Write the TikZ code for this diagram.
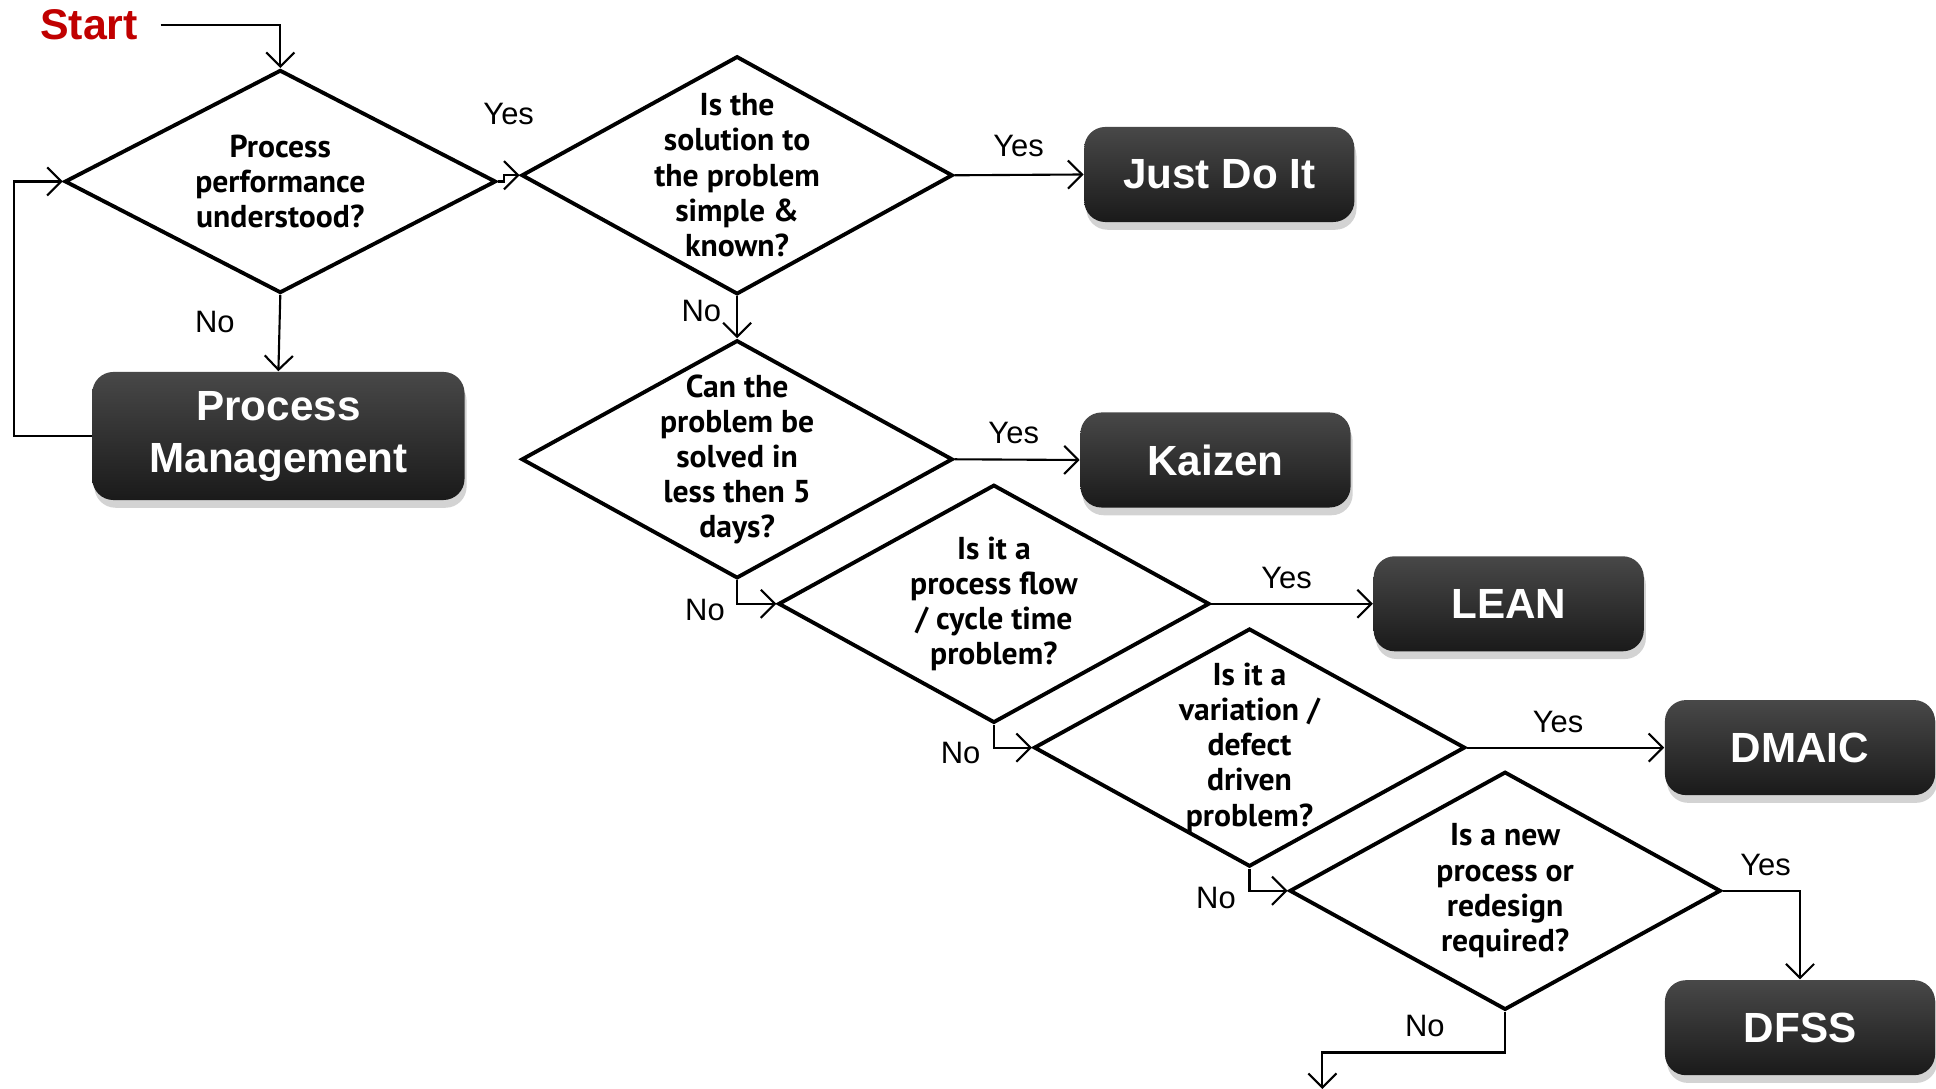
\documentclass[tikz,border=0pt]{standalone}
\usepackage{fontspec}
\setmainfont{Liberation Sans}
\newfontfamily\qfont{PT Sans}
\usetikzlibrary{shapes.geometric,arrows.meta,shadows}

\definecolor{startred}{RGB}{192,0,0}
\definecolor{boxtop}{RGB}{72,72,72}
\definecolor{boxbot}{RGB}{26,26,26}

\tikzset{
  decision/.style={draw, diamond, line width=1.1pt, inner sep=0pt,
    minimum width=4.31cm, minimum height=2.38cm},
  qtext/.style={align=center, inner sep=0pt,
    font=\qfont\bfseries\fontsize{9}{10}\selectfont},
  method/.style={rounded corners=6pt, top color=boxtop, bottom color=boxbot,
    text=white, align=center, minimum width=2.7cm, minimum height=0.95cm,
    font=\bfseries\fontsize{12}{14.8}\selectfont,
    drop shadow={shadow xshift=0.6pt, shadow yshift=-2.2pt, opacity=0.35}},
  lbl/.style={font=\fontsize{8.8}{10}\selectfont},
  flow/.style={->, line width=0.6pt}
}

\begin{document}
\begin{tikzpicture}[x=0.01cm, y=-0.01cm, >={Straight Barb[length=4pt,width=8pt]}]

\useasboundingbox (0,0) rectangle (1936,1089);

% start
\node[text=startred, font=\bfseries\fontsize{12.2}{14}\selectfont, inner xsep=0.22cm] (start) at (89,25) {Start};

% questions
\node[decision, minimum height=2.23cm] (d1) at (280.3,181.5) {};
\node[qtext] (q1) at (d1) {Process\\performance\\understood?};

\node[decision] (d2) at (737.1,175.3) {};
\node[qtext] (q2) at (d2) {Is the\\solution to\\the problem\\simple \&\\known?};

\node[decision] (d3) at (737.1,459.3) {};
\node[qtext] (q3) at (d3) {Can the\\problem be\\solved in\\less then 5\\days?};

\node[decision] (d4) at (993.9,603.8) {};
\node[qtext] (q4) at (d4) {Is it a\\process flow\\/ cycle time\\problem?};

\node[decision] (d5) at (1249.5,747.6) {};
\node[qtext] (q5) at (d5) {Is it a\\variation /\\defect\\driven\\problem?};

\node[decision] (d6) at (1505.1,890.8) {};
\node[qtext] (q6) at (d6) {Is a new\\process or\\redesign\\required?};

% outcomes
\node[method, minimum width=3.72cm, minimum height=1.28cm] (pm) at (278.4,436) {Process\\Management};
\foreach \n/\x/\y/\t in {jdi/1219.3/174.5/Just Do It, kaizen/1215.5/460/Kaizen,
    lean/1508.7/603.8/LEAN, dmaic/1800/747.6/DMAIC, dfss/1800/1027.7/DFSS} {
  \node[method] (\n) at (\x,\y) {\t};
}

\coordinate (exit) at (1322.4,1089);

% connectors
\draw[flow] (start.east) -| (d1.north);
\draw[flow] (d1.south) -- (pm.north);
\draw[flow] (pm.west) -- ++(-77.8,0) |- (d1.west);
\draw[flow] (d1.east) -- ++(6,0) |- (d2.west);
\draw[flow] (d2.east) -- (jdi.west);
\draw[flow] (d2.south) -- (d3.north);
\draw[flow] (d3.east) -- (kaizen.west);
\draw[flow] (d3.south) |- (d4.west);
\draw[flow] (d4.east) -- (lean.west);
\draw[flow] (d4.south) |- (d5.west);
\draw[flow] (d5.east) -- (dmaic.west);
\draw[flow] (d5.south) |- (d6.west);
\draw[flow] (d6.east) -| (dfss.north);
\draw[flow] (d6.south) -- ++(0,40.7) -| (exit);

% yes / no
\node[lbl] (y1) at (508.7,113.6) {Yes};
\node[lbl] (n1) at (214.8,322.3) {No};
\node[lbl] (y2) at (1018.6,145.7) {Yes};
\node[lbl] (n2) at (701.3,311) {No};
\node[lbl] (y3) at (1013.7,433.4) {Yes};
\node[lbl] (n3) at (705,610) {No};
\node[lbl] (y4) at (1286.5,577.8) {Yes};
\node[lbl] (n4) at (960.6,753) {No};
\node[lbl] (y5) at (1558,722.3) {Yes};
\node[lbl] (n5) at (1216,897.6) {No};
\node[lbl] (y6) at (1765.6,865.5) {Yes};
\node[lbl] (n6) at (1424.8,1026) {No};

\end{tikzpicture}
\end{document}
